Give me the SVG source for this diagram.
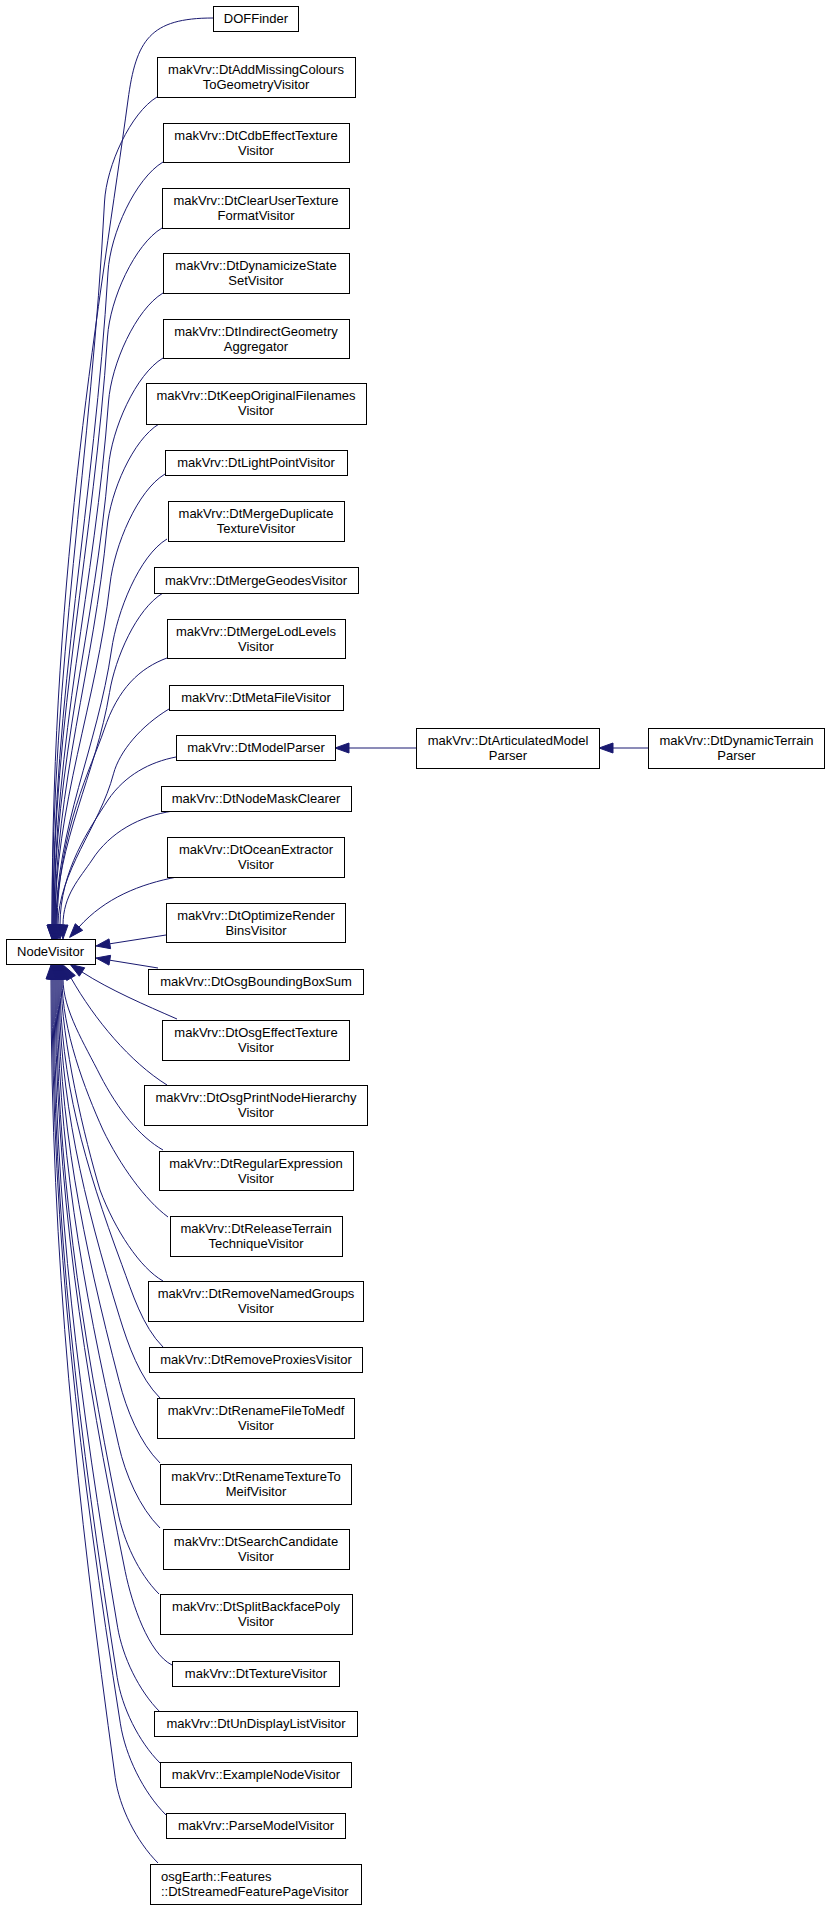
<svg xmlns="http://www.w3.org/2000/svg" width="829" height="1909" viewBox="0 0 829 1909">
<style>
.node rect{fill:#fff;stroke:#000;stroke-width:1}
.node text{font-family:"Liberation Sans",Arial,sans-serif;font-size:13px;text-anchor:middle;fill:#000}
.node text.l{text-anchor:start}
.edge path{fill:none;stroke:#191970;stroke-width:1}
.edge polygon{fill:#191970;stroke:#191970;stroke-width:1}
</style>
<rect width="829" height="1909" fill="#fff"/>
<g id="edges" class="edge">
<path d="M213,18 C150,18 136,40 128,100 C101,300 52,560 52,925"/><polygon points="47,925 57,925 52,939"/>
<path d="M157,97 C130.8,112.8 106.4,165.3 104.5,202 C91.4,455 52,672 52,925"/><polygon points="47,925 57,925 52,939"/>
<path d="M163,162 C135.5,178.5 110.3,233.5 108,272 C94.3,500.6 53,696.5 53,925"/><polygon points="48,925 58,925 53,939"/>
<path d="M162,228 C134.8,244.4 110,298.8 107.5,337 C93.9,542.8 53,719.2 53,925"/><polygon points="48,925 58,925 53,939"/>
<path d="M163,293 C135.8,309.4 111.3,363.9 108.5,402 C94.9,585 54,742 54,925"/><polygon points="49,925 59,925 54,939"/>
<path d="M163,358 C135.8,374.4 111.7,428.8 108.5,467 C94.9,627.3 54,764.7 54,925"/><polygon points="49,925 59,925 54,939"/>
<path d="M159,424 C133,439.6 110.4,491.6 107,528 C94,667 55,786 55,925"/><polygon points="50,925 60,925 55,939"/>
<path d="M165,474 C137.5,490.5 114.4,545.5 110,584 C96.3,703.4 55,805.7 55,925"/><polygon points="50,925 60,925 55,939"/>
<path d="M167,539 C139.3,555.7 117.1,611.2 111.5,650 C97.6,746.3 56,828.8 56,925"/><polygon points="51,925 61,925 56,939"/>
<path d="M163,593 C136.3,609.1 115.2,657.8 109.5,692.6 C96.1,773.9 56,843.7 56,925"/><polygon points="51,925 61,925 56,939"/>
<path d="M167,658 C140,668 118,688 104,730 C92,766 58,830 57,925"/><polygon points="52,925 62,925 57,939"/>
<path d="M169,709 C141.3,725.7 119.5,751.1 113.5,773.8 C99.6,826.7 58,872.1 58,925"/><polygon points="53,925 63,925 58,939"/>
<path d="M176,757 C150,762 125,775 108,800 C90,828 60,870 60,925"/><polygon points="55,925 65,925 60,939"/>
<path d="M173,811 C140,816 110,832 92,860 C80,878 63,895 63,925"/><polygon points="58,925 68,925 63,939"/>
<path d="M177,877 C140,884 105,898 79,927"/><polygon points="69.6,937.4 82.7,930.3 75.3,923.7"/>
<path d="M166,935 L109.8,943.8"/><polygon points="96,946 110.6,948.7 109,938.9"/>
<path d="M158,968 L109.8,960.2"/><polygon points="96,958 110.6,955.3 109,965.1"/>
<path d="M177,1019 C145,1005 110,990 82,972"/><polygon points="70.2,964.4 84.7,967.8 79.3,976.2"/>
<path d="M167,1085 C130,1062 95,1020 71,978"/><polygon points="64.1,965.8 75.3,975.5 66.7,980.5"/>
<path d="M163,1150 C140,1137 118,1110 100,1075 C85,1045 63,1010 63,979"/><polygon points="58,979 68,979 63,965"/>
<path d="M168,1217 C145,1200 120,1165 103,1130 C85,1090 62,1030 62,979"/><polygon points="57,979 67,979 62,965"/>
<path d="M163,1281 C140,1268 115,1230 100,1190 C85,1140 61,1040 61,979"/><polygon points="56,979 66,979 61,965"/>
<path d="M163,1347 C142.4,1326.4 132.5,1293.5 121.8,1264.6 C84.7,1164.6 60,1079 60,979"/><polygon points="55,979 65,979 60,965"/>
<path d="M160,1398 C139.8,1377.8 128.3,1345.5 119.6,1317.2 C83.2,1198.8 59,1097.4 59,979"/><polygon points="54,979 64,979 59,965"/>
<path d="M160,1463 C139.6,1442.6 126.6,1410 119.2,1381.4 C82.5,1240.6 58,1119.8 58,979"/><polygon points="53,979 63,979 58,965"/>
<path d="M160,1528 C139.4,1507.4 125.4,1474.4 118.8,1445.6 C81.7,1282.3 57,1142.3 57,979"/><polygon points="52,979 62,979 57,965"/>
<path d="M159,1594 C138.4,1573.4 123.5,1540.4 117.8,1511.6 C80.7,1325.2 56,1165.4 56,979"/><polygon points="51,979 61,979 56,965"/>
<path d="M172,1665 C148.6,1653.3 131.9,1604.2 125.2,1571.4 C83.1,1364.1 55,1186.3 55,979"/><polygon points="50,979 60,979 55,965"/>
<path d="M160,1712 C138.8,1690.8 122.6,1656.9 117.6,1627.2 C79.4,1400.3 54,1205.9 54,979"/><polygon points="49,979 59,979 54,965"/>
<path d="M160,1763 C138.6,1741.6 121.9,1707.4 117.2,1677.4 C78.7,1433 53,1223.4 53,979"/><polygon points="48,979 58,979 53,965"/>
<path d="M166,1815 C143.2,1792.2 125.4,1755.7 120.4,1723.8 C79.4,1463.1 52,1239.7 52,979"/><polygon points="47,979 57,979 52,965"/>
<path d="M158,1863 C136.6,1841.6 119.3,1807.4 115.2,1777.4 C76.7,1498 51,1258.4 51,979"/><polygon points="46,979 56,979 51,965"/>
<path d="M416,748 L349,748"/><polygon points="349,743 349,753 335,748"/>
<path d="M648,748 L613,748"/><polygon points="613,743 613,753 599,748"/>
</g>
<g id="NodeVisitor" class="node"><rect x="6.5" y="939.5" width="89" height="25"/><text x="50.5" y="956">NodeVisitor</text></g>
<g id="DOFFinder" class="node"><rect x="213.5" y="6.5" width="85" height="25"/><text x="256" y="23">DOFFinder</text></g>
<g id="DtAddMissingColoursToGeometryVisitor" class="node"><rect x="157.5" y="57.5" width="198" height="40"/><text x="256" y="73.5">makVrv::DtAddMissingColours</text><text x="256" y="88.5">ToGeometryVisitor</text></g>
<g id="DtCdbEffectTextureVisitor" class="node"><rect x="163.5" y="123.5" width="186" height="39"/><text x="256" y="139.5">makVrv::DtCdbEffectTexture</text><text x="256" y="154.5">Visitor</text></g>
<g id="DtClearUserTextureFormatVisitor" class="node"><rect x="162.5" y="188.5" width="187" height="40"/><text x="256" y="204.5">makVrv::DtClearUserTexture</text><text x="256" y="219.5">FormatVisitor</text></g>
<g id="DtDynamicizeStateSetVisitor" class="node"><rect x="163.5" y="253.5" width="186" height="40"/><text x="256" y="269.5">makVrv::DtDynamicizeState</text><text x="256" y="284.5">SetVisitor</text></g>
<g id="DtIndirectGeometryAggregator" class="node"><rect x="163.5" y="319.5" width="186" height="39"/><text x="256" y="335.5">makVrv::DtIndirectGeometry</text><text x="256" y="350.5">Aggregator</text></g>
<g id="DtKeepOriginalFilenamesVisitor" class="node"><rect x="146.5" y="383.5" width="220" height="41"/><text x="256" y="400">makVrv::DtKeepOriginalFilenames</text><text x="256" y="415">Visitor</text></g>
<g id="DtLightPointVisitor" class="node"><rect x="165.5" y="450.5" width="182" height="25"/><text x="256" y="467">makVrv::DtLightPointVisitor</text></g>
<g id="DtMergeDuplicateTextureVisitor" class="node"><rect x="168.5" y="501.5" width="176" height="40"/><text x="256" y="517.5">makVrv::DtMergeDuplicate</text><text x="256" y="532.5">TextureVisitor</text></g>
<g id="DtMergeGeodesVisitor" class="node"><rect x="154.5" y="567.5" width="204" height="26"/><text x="256" y="584.5">makVrv::DtMergeGeodesVisitor</text></g>
<g id="DtMergeLodLevelsVisitor" class="node"><rect x="167.5" y="619.5" width="178" height="39"/><text x="256" y="635.5">makVrv::DtMergeLodLevels</text><text x="256" y="650.5">Visitor</text></g>
<g id="DtMetaFileVisitor" class="node"><rect x="169.5" y="685.5" width="174" height="25"/><text x="256" y="702">makVrv::DtMetaFileVisitor</text></g>
<g id="DtModelParser" class="node"><rect x="176.5" y="735.5" width="159" height="25"/><text x="256" y="752">makVrv::DtModelParser</text></g>
<g id="DtNodeMaskClearer" class="node"><rect x="161.5" y="786.5" width="190" height="25"/><text x="256" y="803">makVrv::DtNodeMaskClearer</text></g>
<g id="DtOceanExtractorVisitor" class="node"><rect x="167.5" y="837.5" width="177" height="40"/><text x="256" y="853.5">makVrv::DtOceanExtractor</text><text x="256" y="868.5">Visitor</text></g>
<g id="DtOptimizeRenderBinsVisitor" class="node"><rect x="166.5" y="903.5" width="179" height="39"/><text x="256" y="919.5">makVrv::DtOptimizeRender</text><text x="256" y="934.5">BinsVisitor</text></g>
<g id="DtOsgBoundingBoxSum" class="node"><rect x="148.5" y="969.5" width="215" height="25"/><text x="256" y="986">makVrv::DtOsgBoundingBoxSum</text></g>
<g id="DtOsgEffectTextureVisitor" class="node"><rect x="162.5" y="1020.5" width="187" height="40"/><text x="256" y="1036.5">makVrv::DtOsgEffectTexture</text><text x="256" y="1051.5">Visitor</text></g>
<g id="DtOsgPrintNodeHierarchyVisitor" class="node"><rect x="144.5" y="1085.5" width="223" height="40"/><text x="256" y="1101.5">makVrv::DtOsgPrintNodeHierarchy</text><text x="256" y="1116.5">Visitor</text></g>
<g id="DtRegularExpressionVisitor" class="node"><rect x="159.5" y="1151.5" width="194" height="39"/><text x="256" y="1167.5">makVrv::DtRegularExpression</text><text x="256" y="1182.5">Visitor</text></g>
<g id="DtReleaseTerrainTechniqueVisitor" class="node"><rect x="170.5" y="1216.5" width="172" height="40"/><text x="256" y="1232.5">makVrv::DtReleaseTerrain</text><text x="256" y="1247.5">TechniqueVisitor</text></g>
<g id="DtRemoveNamedGroupsVisitor" class="node"><rect x="148.5" y="1281.5" width="215" height="40"/><text x="256" y="1297.5">makVrv::DtRemoveNamedGroups</text><text x="256" y="1312.5">Visitor</text></g>
<g id="DtRemoveProxiesVisitor" class="node"><rect x="149.5" y="1347.5" width="213" height="25"/><text x="256" y="1364">makVrv::DtRemoveProxiesVisitor</text></g>
<g id="DtRenameFileToMedfVisitor" class="node"><rect x="157.5" y="1398.5" width="197" height="40"/><text x="256" y="1414.5">makVrv::DtRenameFileToMedf</text><text x="256" y="1429.5">Visitor</text></g>
<g id="DtRenameTextureToMeifVisitor" class="node"><rect x="160.5" y="1464.5" width="191" height="40"/><text x="256" y="1480.5">makVrv::DtRenameTextureTo</text><text x="256" y="1495.5">MeifVisitor</text></g>
<g id="DtSearchCandidateVisitor" class="node"><rect x="163.5" y="1529.5" width="186" height="40"/><text x="256" y="1545.5">makVrv::DtSearchCandidate</text><text x="256" y="1560.5">Visitor</text></g>
<g id="DtSplitBackfacePolyVisitor" class="node"><rect x="160.5" y="1594.5" width="192" height="40"/><text x="256" y="1610.5">makVrv::DtSplitBackfacePoly</text><text x="256" y="1625.5">Visitor</text></g>
<g id="DtTextureVisitor" class="node"><rect x="172.5" y="1661.5" width="167" height="25"/><text x="256" y="1678">makVrv::DtTextureVisitor</text></g>
<g id="DtUnDisplayListVisitor" class="node"><rect x="154.5" y="1711.5" width="203" height="25"/><text x="256" y="1728">makVrv::DtUnDisplayListVisitor</text></g>
<g id="ExampleNodeVisitor" class="node"><rect x="160.5" y="1762.5" width="191" height="25"/><text x="256" y="1779">makVrv::ExampleNodeVisitor</text></g>
<g id="ParseModelVisitor" class="node"><rect x="166.5" y="1813.5" width="179" height="25"/><text x="256" y="1830">makVrv::ParseModelVisitor</text></g>
<g id="DtStreamedFeaturePageVisitor" class="node"><rect x="150.5" y="1864.5" width="211" height="40"/><text class="l" x="161" y="1880.5">osgEarth::Features</text><text class="l" x="161" y="1895.5">::DtStreamedFeaturePageVisitor</text></g>
<g id="DtArticulatedModelParser" class="node"><rect x="416.5" y="728.5" width="183" height="40"/><text x="508" y="744.5">makVrv::DtArticulatedModel</text><text x="508" y="759.5">Parser</text></g>
<g id="DtDynamicTerrainParser" class="node"><rect x="648.5" y="728.5" width="176" height="40"/><text x="736.5" y="744.5">makVrv::DtDynamicTerrain</text><text x="736.5" y="759.5">Parser</text></g>
</svg>
